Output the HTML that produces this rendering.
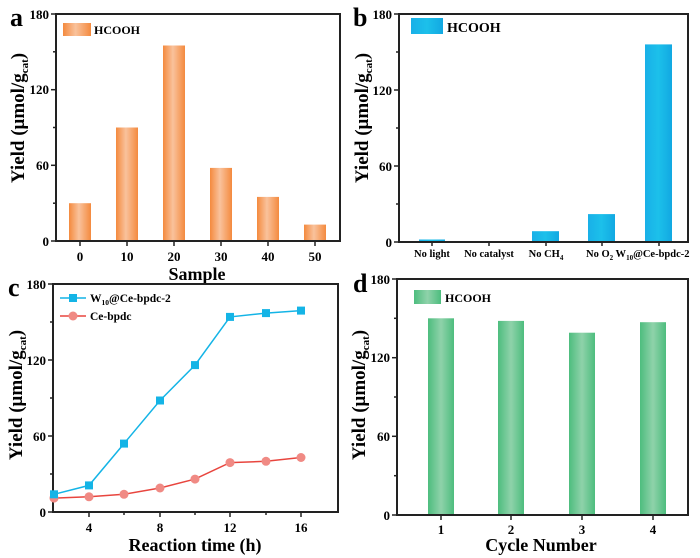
<!DOCTYPE html>
<html><head><meta charset="utf-8"><style>
html,body{margin:0;padding:0;background:#fff}
svg{display:block;font-family:"Liberation Serif",serif;font-weight:bold}
</style></head><body>
<svg width="700" height="558" viewBox="0 0 700 558" xmlns="http://www.w3.org/2000/svg">
<defs>
<linearGradient id="go" x1="0" x2="1" y1="0" y2="0"><stop offset="0" stop-color="#f48a3e"/><stop offset="0.45" stop-color="#f9c29c"/><stop offset="1" stop-color="#f48a3e"/></linearGradient>
<linearGradient id="gb" x1="0" x2="1" y1="0" y2="0"><stop offset="0" stop-color="#19b0e8"/><stop offset="0.5" stop-color="#1cc0ea"/><stop offset="1" stop-color="#12a8e2"/></linearGradient>
<linearGradient id="gg" x1="0" x2="1" y1="0" y2="0"><stop offset="0" stop-color="#4dbd7e"/><stop offset="0.5" stop-color="#8fd2aa"/><stop offset="1" stop-color="#4dbd7e"/></linearGradient>
</defs>

<!-- Panel a -->
<g>
<text x="10" y="26" font-size="26">a</text>
<g fill="url(#go)">
<rect x="69" y="203.2" width="22" height="37.8"/>
<rect x="116" y="127.5" width="22" height="113.5"/>
<rect x="163" y="45.5" width="22" height="195.5"/>
<rect x="210" y="167.9" width="22" height="73.1"/>
<rect x="257" y="196.9" width="22" height="44.1"/>
<rect x="304" y="224.6" width="22" height="16.4"/>
</g>
<rect x="63" y="23" width="28" height="13" fill="url(#go)"/>
<text x="94" y="34" font-size="12">HCOOH</text>
<rect x="56" y="14" width="284" height="227" fill="none" stroke="#222" stroke-width="2"/>
<g stroke="#222" stroke-width="1.5">
<line x1="51" y1="14" x2="56" y2="14"/><line x1="51" y1="89.7" x2="56" y2="89.7"/><line x1="51" y1="165.3" x2="56" y2="165.3"/><line x1="51" y1="241" x2="56" y2="241"/>
<line x1="53" y1="51.8" x2="56" y2="51.8"/><line x1="53" y1="127.5" x2="56" y2="127.5"/><line x1="53" y1="203.2" x2="56" y2="203.2"/>
<line x1="80" y1="241" x2="80" y2="246"/><line x1="127" y1="241" x2="127" y2="246"/><line x1="174" y1="241" x2="174" y2="246"/><line x1="221" y1="241" x2="221" y2="246"/><line x1="268" y1="241" x2="268" y2="246"/><line x1="315" y1="241" x2="315" y2="246"/>
</g>
<g font-size="13" text-anchor="end">
<text x="49" y="19">180</text><text x="49" y="94">120</text><text x="49" y="170">60</text><text x="49" y="246">0</text>
</g>
<g font-size="13" text-anchor="middle">
<text x="80" y="261">0</text><text x="127" y="261">10</text><text x="174" y="261">20</text><text x="221" y="261">30</text><text x="268" y="261">40</text><text x="315" y="261">50</text>
</g>
<text x="197" y="280" font-size="18" text-anchor="middle">Sample</text>
<text transform="translate(24,118) rotate(-90)" font-size="19" text-anchor="middle">Yield (μmol/g<tspan font-size="11" dy="4">cat</tspan><tspan dy="-4">)</tspan></text>
</g>

<!-- Panel b -->
<g>
<text x="353" y="26" font-size="26">b</text>
<g fill="url(#gb)">
<rect x="419" y="239.5" width="26" height="2.5"/>
<rect x="532" y="231.2" width="27" height="10.8"/>
<rect x="588" y="214.1" width="27" height="27.9"/>
<rect x="645" y="44.4" width="27" height="197.6"/>
</g>
<rect x="411" y="18" width="32" height="16" fill="url(#gb)"/>
<text x="447" y="32" font-size="14">HCOOH</text>
<rect x="399" y="14" width="289" height="228" fill="none" stroke="#222" stroke-width="2"/>
<g stroke="#222" stroke-width="1.5">
<line x1="394" y1="14" x2="399" y2="14"/><line x1="394" y1="90" x2="399" y2="90"/><line x1="394" y1="166" x2="399" y2="166"/><line x1="394" y1="242" x2="399" y2="242"/>
<line x1="396" y1="52" x2="399" y2="52"/><line x1="396" y1="128" x2="399" y2="128"/><line x1="396" y1="204" x2="399" y2="204"/>
<line x1="432" y1="242" x2="432" y2="246"/><line x1="489" y1="242" x2="489" y2="246"/><line x1="546" y1="242" x2="546" y2="246"/><line x1="602" y1="242" x2="602" y2="246"/><line x1="659" y1="242" x2="659" y2="246"/>
</g>
<g font-size="13" text-anchor="end">
<text x="392" y="19">180</text><text x="392" y="95">120</text><text x="392" y="171">60</text><text x="392" y="247">0</text>
</g>
<g font-size="10.5" text-anchor="middle">
<text x="432" y="257">No light</text><text x="489" y="257">No catalyst</text>
<text x="546" y="257">No CH<tspan font-size="7" dy="3">4</tspan></text>
<text x="586" y="257" text-anchor="start">No O<tspan font-size="7" dy="3">2</tspan><tspan dy="-3"> W</tspan><tspan font-size="7" dy="3">10</tspan><tspan dy="-3">@Ce-bpdc-2</tspan></text>
</g>
<text transform="translate(368,118) rotate(-90)" font-size="19" text-anchor="middle">Yield (μmol/g<tspan font-size="11" dy="4">cat</tspan><tspan dy="-4">)</tspan></text>
</g>

<!-- Panel c -->
<g>
<text x="8" y="296" font-size="26">c</text>
<rect x="53" y="284" width="285" height="228" fill="none" stroke="#222" stroke-width="2"/>
<g stroke="#222" stroke-width="1.5">
<line x1="48" y1="284" x2="53" y2="284"/><line x1="48" y1="360" x2="53" y2="360"/><line x1="48" y1="436" x2="53" y2="436"/><line x1="48" y1="512" x2="53" y2="512"/>
<line x1="50" y1="322" x2="53" y2="322"/><line x1="50" y1="398" x2="53" y2="398"/><line x1="50" y1="474" x2="53" y2="474"/>
<line x1="89" y1="512" x2="89" y2="517"/><line x1="160" y1="512" x2="160" y2="517"/><line x1="230" y1="512" x2="230" y2="517"/><line x1="301" y1="512" x2="301" y2="517"/>
<line x1="124" y1="512" x2="124" y2="515"/><line x1="195" y1="512" x2="195" y2="515"/><line x1="266" y1="512" x2="266" y2="515"/>
</g>
<g font-size="13" text-anchor="end">
<text x="46" y="289">180</text><text x="46" y="365">120</text><text x="46" y="441">60</text><text x="46" y="517">0</text>
</g>
<g font-size="13" text-anchor="middle">
<text x="89" y="532">4</text><text x="160" y="532">8</text><text x="230" y="532">12</text><text x="301" y="532">16</text>
</g>
<text x="195" y="551" font-size="18" text-anchor="middle">Reaction time (h)</text>
<text transform="translate(22,395) rotate(-90)" font-size="19" text-anchor="middle">Yield (μmol/g<tspan font-size="11" dy="4">cat</tspan><tspan dy="-4">)</tspan></text>
<polyline fill="none" stroke="#e8453e" stroke-width="1.5" points="54,498.1 89,496.8 124,494.3 160,488 195,479.1 230,462.6 266,461.3 301,457.5"/>
<g fill="#f08a84">
<circle cx="54" cy="498.1" r="4.5"/><circle cx="89" cy="496.8" r="4.5"/><circle cx="124" cy="494.3" r="4.5"/><circle cx="160" cy="488" r="4.5"/><circle cx="195" cy="479.1" r="4.5"/><circle cx="230" cy="462.6" r="4.5"/><circle cx="266" cy="461.3" r="4.5"/><circle cx="301" cy="457.5" r="4.5"/>
</g>
<polyline fill="none" stroke="#14b4e6" stroke-width="1.5" points="54,494.3 89,485.4 124,443.6 160,400.5 195,365.1 230,316.9 266,313.1 301,310.6"/>
<g fill="#14b4e6">
<rect x="50" y="490.3" width="8" height="8"/><rect x="85" y="481.4" width="8" height="8"/><rect x="120" y="439.6" width="8" height="8"/><rect x="156" y="396.5" width="8" height="8"/><rect x="191" y="361.1" width="8" height="8"/><rect x="226" y="312.9" width="8" height="8"/><rect x="262" y="309.1" width="8" height="8"/><rect x="297" y="306.6" width="8" height="8"/>
</g>
<line x1="60" y1="298" x2="86" y2="298" stroke="#14b4e6" stroke-width="1.5"/><rect x="69" y="294" width="8" height="8" fill="#14b4e6"/>
<text x="90" y="302" font-size="11.5">W<tspan font-size="7.5" dy="3">10</tspan><tspan dy="-3">@Ce-bpdc-2</tspan></text>
<line x1="60" y1="316" x2="86" y2="316" stroke="#e8453e" stroke-width="1.5"/><circle cx="73" cy="316" r="4.5" fill="#f08a84"/>
<text x="90" y="320" font-size="11.5">Ce-bpdc</text>
</g>

<!-- Panel d -->
<g>
<text x="353" y="292" font-size="26">d</text>
<g fill="url(#gg)">
<rect x="428" y="318.3" width="26" height="196.7"/>
<rect x="498" y="320.9" width="26" height="194.1"/>
<rect x="569" y="332.7" width="26" height="182.3"/>
<rect x="640" y="322.2" width="26" height="192.8"/>
</g>
<rect x="414" y="290" width="27" height="14" fill="url(#gg)"/>
<text x="445" y="302" font-size="12">HCOOH</text>
<rect x="397" y="279" width="291" height="236" fill="none" stroke="#222" stroke-width="2"/>
<g stroke="#222" stroke-width="1.5">
<line x1="392" y1="279" x2="397" y2="279"/><line x1="392" y1="357.7" x2="397" y2="357.7"/><line x1="392" y1="436.3" x2="397" y2="436.3"/><line x1="392" y1="515" x2="397" y2="515"/>
<line x1="394" y1="318.3" x2="397" y2="318.3"/><line x1="394" y1="397" x2="397" y2="397"/><line x1="394" y1="475.7" x2="397" y2="475.7"/>
<line x1="441" y1="515" x2="441" y2="520"/><line x1="511" y1="515" x2="511" y2="520"/><line x1="582" y1="515" x2="582" y2="520"/><line x1="653" y1="515" x2="653" y2="520"/>
</g>
<g font-size="13" text-anchor="end">
<text x="390" y="284">180</text><text x="390" y="362">120</text><text x="390" y="441">60</text><text x="390" y="520">0</text>
</g>
<g font-size="13" text-anchor="middle">
<text x="441" y="534">1</text><text x="511" y="534">2</text><text x="582" y="534">3</text><text x="653" y="534">4</text>
</g>
<text x="541" y="551" font-size="18" text-anchor="middle">Cycle Number</text>
<text transform="translate(365,395) rotate(-90)" font-size="19" text-anchor="middle">Yield (μmol/g<tspan font-size="11" dy="4">cat</tspan><tspan dy="-4">)</tspan></text>
</g>
</svg>
</body></html>
